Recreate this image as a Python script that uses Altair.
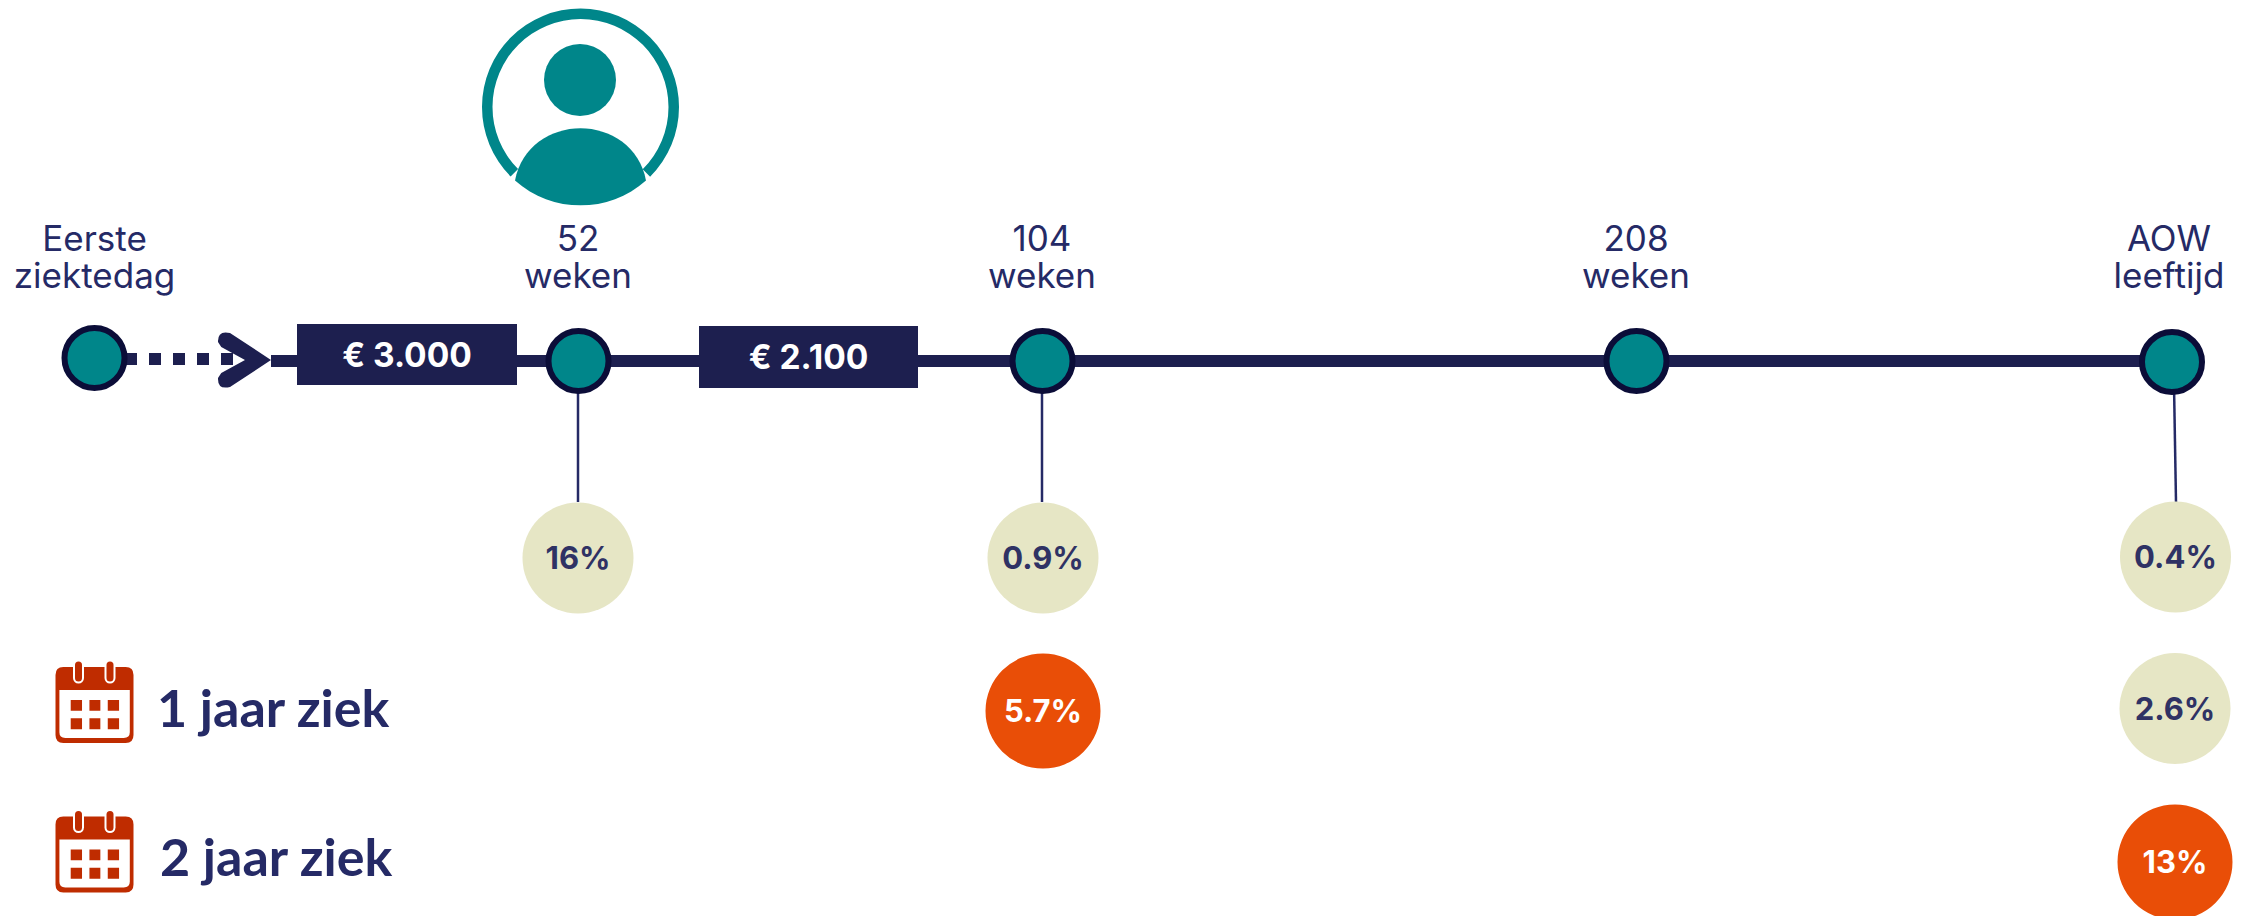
import altair as alt
import pandas as pd

NAVY = "#1d1f4f"
TEXT = "#252a66"
TEAL = "#00868a"
BEIGE = "#e6e6c5"
ORANGE = "#e94e07"
RED = "#bf2c00"
FONT = "Inter"
LABEL_FONT = "Lato"

# milestones
node_labels_1 = ["Eerste", "52", "104", "208", "AOW"]
node_labels_2 = ["ziektedag", "weken", "weken", "weken", "leeftijd"]
node_x = [94.5, 578.5, 1042.5, 1636.5, 2172]
node_y = [358, 361, 361, 361, 362]
label_x = [94.5, 578, 1042, 1636, 2169]

# amounts
amount_labels = ["€ 3.000", "€ 2.100"]
amount_x1 = [297, 699]
amount_x2 = [517, 918]
amount_y1 = [324, 326]
amount_y2 = [385, 388]

# percentage bubbles
pct_labels = ["16%", "0.9%", "5.7%", "0.4%", "2.6%", "13%"]
pct_x = [578, 1043, 1043, 2175.5, 2175, 2175]
pct_y = [558, 558, 711, 557, 708.5, 862]
pct_d = ["c", "c", "h", "c", "c", "h"]

# connectors
conn_x1 = [578, 1042, 2174]
conn_x2 = [578, 1042, 2176]
conn_y1 = [385, 385, 385]
conn_y2 = [502, 502, 502]

# legend
legend_labels = ["1 jaar ziek", "2 jaar ziek"]
legend_x = [157, 160]
legend_y = [727, 876]
cal_x = [94.5, 94.5]
cal_y = [705, 854.5]
tab_x = [78.5, 110]


def sx(f="x"):
    return alt.X(f"{f}:Q", scale=alt.Scale(domain=[8, 2246], nice=False, zero=False), axis=None)


def sy(f="y"):
    return alt.Y(f"{f}:Q", scale=alt.Scale(domain=[916, 8], nice=False, zero=False), axis=None)


layers = []

# main line
layers.append(
    alt.Chart(pd.DataFrame({"x": [271], "x2": [2172], "y": [361]}))
    .mark_rule(color=NAVY, strokeWidth=12)
    .encode(x=sx(), x2="x2:Q", y=sy())
)
# dotted start
layers.append(
    alt.Chart(pd.DataFrame({"x": [125], "x2": [233], "y": [359]}))
    .mark_rule(color=NAVY, strokeWidth=12, strokeDash=[12, 12])
    .encode(x=sx(), x2="x2:Q", y=sy())
)
# arrowhead
ARROW = "M1.04 0L-0.6 -1.08Q-1.1 -1.2 -1.08 -0.72L-0.95 -0.52L0 0L-0.95 0.52L-1.08 0.72Q-1.1 1.2 -0.6 1.08Z"
layers.append(
    alt.Chart(pd.DataFrame({"x": [245], "y": [360]}))
    .mark_point(shape=ARROW, filled=True, size=2500, color=NAVY, opacity=1, strokeWidth=0)
    .encode(x=sx(), y=sy())
)
# connectors
layers.append(
    alt.Chart(pd.DataFrame({"x": conn_x1, "x2": conn_x2, "y": conn_y1, "y2": conn_y2}))
    .mark_rule(color=TEXT, strokeWidth=2.5)
    .encode(x=sx(), x2="x2:Q", y=sy(), y2="y2:Q")
)
# amount boxes
amounts = pd.DataFrame({"x": amount_x1, "x2": amount_x2, "y": amount_y1, "y2": amount_y2, "t": amount_labels})
amounts["cx"] = (amounts.x + amounts.x2) / 2
amounts["cy"] = (amounts.y + amounts.y2) / 2 + 12
layers.append(alt.Chart(amounts).mark_rect(color=NAVY).encode(x=sx(), x2="x2:Q", y=sy(), y2="y2:Q"))
layers.append(
    alt.Chart(amounts)
    .mark_text(font=FONT, fontSize=33.5, fontWeight=700, color="white", align="center", baseline="alphabetic")
    .encode(x=sx("cx"), y=sy("cy"), text="t:N")
)
# nodes
layers.append(
    alt.Chart(pd.DataFrame({"x": node_x, "y": node_y}))
    .mark_circle(color=TEAL, size=3600, opacity=1, stroke="#0b0d38", strokeWidth=6)
    .encode(x=sx(), y=sy())
)
# node labels
labels = pd.DataFrame({"x": label_x, "a": node_labels_1, "b": node_labels_2, "ya": [251] * 5, "yb": [288] * 5})
for field, yf in (("a", "ya"), ("b", "yb")):
    layers.append(
        alt.Chart(labels)
        .mark_text(font=FONT, fontSize=35, fontWeight=400, color=TEXT, align="center", baseline="alphabetic")
        .encode(x=sx(), y=sy(yf), text=f"{field}:N")
    )
# person icon
person = pd.DataFrame({"x": [580.5], "y": [107]})
layers.append(
    alt.Chart(person)
    .mark_arc(color=TEAL, radius=98.5, radius2=88, theta=3.93, theta2=8.64)
    .encode(x=sx(), y=sy())
)
layers.append(
    alt.Chart(pd.DataFrame({"x": [580], "y": [80]}))
    .mark_circle(color=TEAL, size=5184, opacity=1)
    .encode(x=sx(), y=sy())
)
BODY = "M-0.665 0.745A1 1 0 0 0 0.665 0.745C0.6 0.4 0.3 0.215 0 0.215C-0.3 0.215 -0.6 0.4 -0.665 0.745Z"
layers.append(
    alt.Chart(person)
    .mark_point(shape=BODY, filled=True, size=38809, color=TEAL, opacity=1, strokeWidth=0)
    .encode(x=sx(), y=sy())
)
# bubbles
pct = pd.DataFrame({"x": pct_x, "y": pct_y, "t": pct_labels, "k": pct_d})
pct["ty"] = pct.y + 11
for kind, fill, ink, dia in (("c", BEIGE, "#2f3264", 12321), ("h", ORANGE, "#ffffff", 13225)):
    sub = pct[pct.k == kind]
    layers.append(
        alt.Chart(sub).mark_circle(size=dia, opacity=1, color=fill).encode(x=sx(), y=sy())
    )
    layers.append(
        alt.Chart(sub)
        .mark_text(font=FONT, fontSize=31, fontWeight=700, color=ink, align="center", baseline="alphabetic")
        .encode(x=sx(), y=sy("ty"), text="t:N")
    )
# calendars
CAL = (
    "M-0.8 -0.974H0.8Q1 -0.974 1 -0.77V0.77Q1 0.974 0.8 0.974H-0.8Q-1 0.974 -1 0.77V-0.77Q-1 -0.974 -0.8 -0.974Z"
    "M-0.9 -0.385V0.7Q-0.9 0.846 -0.75 0.846H0.75Q0.905 0.846 0.905 0.7V-0.385Z"
    "M-0.61 -0.13H-0.32V0.146H-0.61ZM-0.13 -0.13H0.15V0.146H-0.13ZM0.34 -0.13H0.63V0.146H0.34Z"
    "M-0.61 0.34H-0.32V0.62H-0.61ZM-0.13 0.34H0.15V0.62H-0.13ZM0.34 0.34H0.63V0.62H0.34Z"
)
cal = pd.DataFrame({"x": cal_x, "y": cal_y})
layers.append(
    alt.Chart(cal)
    .mark_point(shape=CAL, filled=True, size=6084, color=RED, opacity=1, strokeWidth=0)
    .encode(x=sx(), y=sy())
)
tabs = pd.DataFrame(
    [{"x": x, "y": y - 40, "y2": y - 27} for y in cal_y for x in tab_x]
)
layers.append(
    alt.Chart(tabs)
    .mark_rule(color="white", strokeWidth=11, strokeCap="round")
    .encode(x=sx(), y=sy(), y2="y2:Q")
)
layers.append(
    alt.Chart(tabs)
    .mark_rule(color=RED, strokeWidth=7, strokeCap="round")
    .encode(x=sx(), y=sy(), y2="y2:Q")
)
# legend text
layers.append(
    alt.Chart(pd.DataFrame({"x": legend_x, "y": legend_y, "t": legend_labels}))
    .mark_text(font=LABEL_FONT, fontSize=52, fontWeight=700, color=TEXT, align="left", baseline="alphabetic")
    .encode(x=sx(), y=sy(), text="t:N")
)

chart = (
    alt.layer(*layers)
    .properties(width=2238, height=908, autosize=alt.AutoSizeParams(type="none"), padding=0, background="white")
    .configure_view(stroke=None)
)
chart.save("out.html", embed_options={"renderer": "svg", "actions": False})
